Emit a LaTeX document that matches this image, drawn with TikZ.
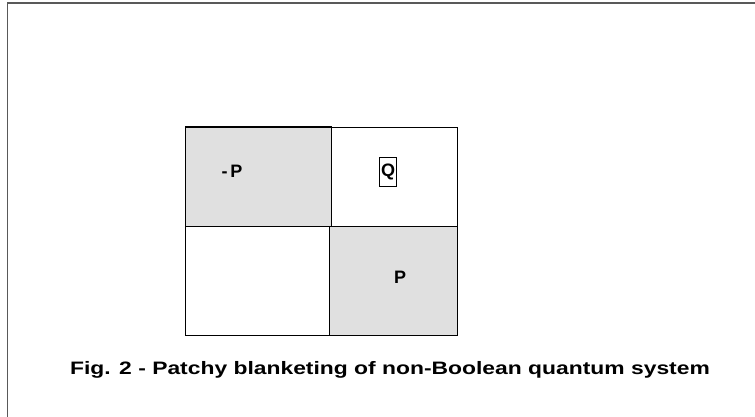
\documentclass[tikz,border=0pt]{standalone}
\usepackage{fontspec}
\setmainfont{Liberation Sans}
\usepackage{xcolor}
\definecolor{patch}{HTML}{E0E0E0}

\begin{document}
\begin{tikzpicture}[x=1pt,y=-1pt,
  cell/.style={draw, line width=1pt, anchor=north west, inner sep=0pt},
  lbl/.style={font=\bfseries\fontsize{18}{21}\selectfont}]
\useasboundingbox (0,0) rectangle (755,417);
% frame
\draw[black!65, line width=1.5pt] (7.5,417) -- (7.5,3) -- (755,3);
% the four patches
\draw node(1)[cell, fill=patch, minimum width=146pt, minimum height=99pt] at (185,127) {};
\draw node(2)[cell, minimum width=126pt, minimum height=99pt] at (331,127) {};
\draw node(3)[cell, minimum width=144pt, minimum height=109pt] at (185,226) {};
\draw node(4)[cell, fill=patch, line width=1.4pt, minimum width=128pt, minimum height=109pt] at (329,226) {};
\draw[line width=1.8pt] (1.north west) -- (1.north east);
% labels
\draw node(5)[lbl] at (232,171) {-\,P};
\draw node(6)[lbl, draw, line width=0.6pt, inner sep=1.5pt, minimum height=29pt] at (388,172) {Q};
\draw node(7)[lbl] at (400,277) {P};
% caption
\draw node(8)[font=\bfseries\fontsize{18}{21}\selectfont] at (390,370) {\scalebox{1.27}[1]{Fig. 2 - Patchy blanketing of non-Boolean quantum system}};
\end{tikzpicture}
\end{document}
